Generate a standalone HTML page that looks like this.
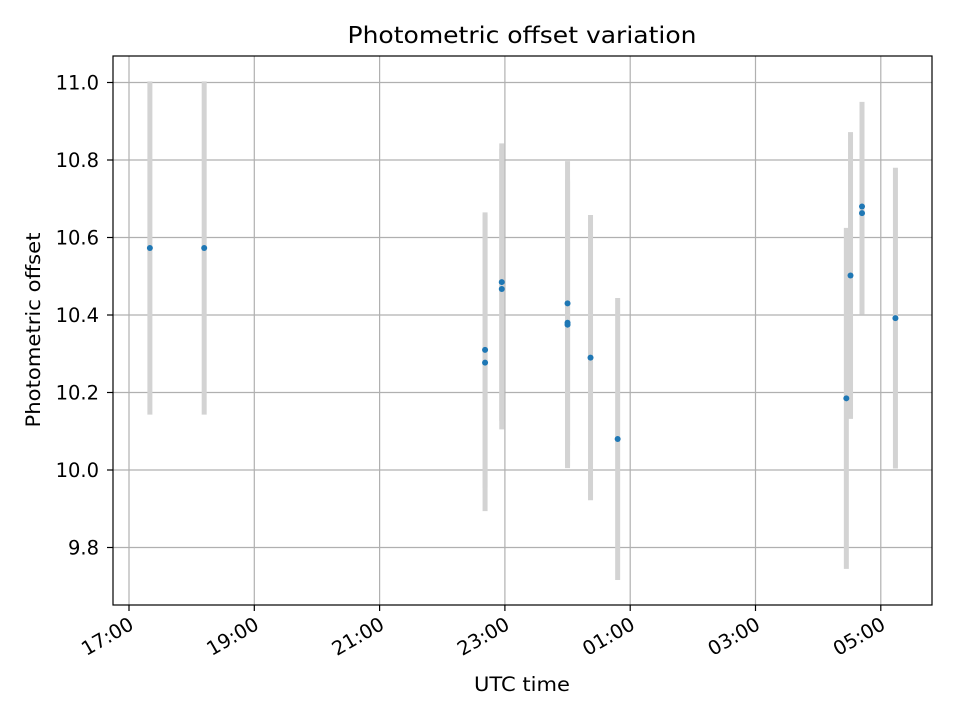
<!DOCTYPE html>
<html><head><meta charset="utf-8"><style>body{margin:0;background:#fff}svg{display:block;font-family:"DejaVu Sans","Liberation Sans",sans-serif}</style></head>
<body>
<svg id="chart" width="960" height="720"></svg>
<script>
// data (minutes after 17:00)
const times = [20, 72, 341, 341, 357, 357, 420, 420, 420, 442, 468, 687, 691, 702, 702, 734];
const values = [10.573, 10.573, 10.31, 10.277, 10.485, 10.467, 10.43, 10.38, 10.375, 10.29, 10.08, 10.185, 10.502, 10.68, 10.663, 10.392];
const errors = [0.43, 0.43, 0.355, 0.383, 0.358, 0.362, 0.367, 0.37, 0.37, 0.368, 0.364, 0.44, 0.37, 0.27, 0.262, 0.388];
const yTicks = [9.8, 10.0, 10.2, 10.4, 10.6, 10.8, 11.0];
const xTickLabels = ["17:00", "19:00", "21:00", "23:00", "01:00", "03:00", "05:00"];
const xTickMinutes = [0, 120, 240, 360, 480, 600, 720];

const NS = "http://www.w3.org/2000/svg";
const svg = document.getElementById("chart");
const L = 113, R = 932, T = 56, B = 605;
function xs(m) { return 129 + m * (125.3 / 120); }
function ys(v) { return 470 - (v - 10.0) * 387.5; }
function mk(tag, attrs, parent) {
  const e = document.createElementNS(NS, tag);
  for (const k in attrs) e.setAttribute(k, attrs[k]);
  (parent || svg).appendChild(e);
  return e;
}
const grid = mk("g", {});


xTickMinutes.forEach(m => mk("line", {x1: xs(m), x2: xs(m), y1: T, y2: B, stroke: "#b0b0b0", "stroke-width": 1.2}, grid));
yTicks.forEach(v => mk("line", {x1: L, x2: R, y1: ys(v), y2: ys(v), stroke: "#b0b0b0", "stroke-width": 1.2}, grid));
const eb = mk("g", {});


times.forEach((t, i) => {
  const l = mk("line", {x1: xs(t), x2: xs(t), y1: ys(values[i] + errors[i]), y2: ys(values[i] - errors[i]), stroke: "#d3d3d3", "stroke-width": 5}, eb);
  
  
});
const pts = mk("g", {});


times.forEach((t, i) => {
  const c = mk("circle", {cx: xs(t), cy: ys(values[i]), r: 3, fill: "#1f77b4"}, pts);
  
  
});
const fr = mk("rect", {x: L, y: T, width: R - L, height: B - T, fill: "none", stroke: "#000", "stroke-width": 1.2});


const ya = mk("g", {});


yTicks.forEach(v => {
  mk("line", {x1: L - 6, x2: L, y1: ys(v), y2: ys(v), stroke: "#000", "stroke-width": 1.2}, ya);
  const tx = mk("text", {x: L - 14, y: ys(v) + 7, "text-anchor": "end", "font-size": 19.5}, ya);
  tx.textContent = v.toFixed(1);
});
const xa = mk("g", {});


xTickMinutes.forEach((m, i) => {
  const x = xs(m);
  mk("line", {x1: x, x2: x, y1: B, y2: B + 6, stroke: "#000", "stroke-width": 1.2}, xa);
  const ax = x - 1, ay = B + 11;
  const tx = mk("text", {x: ax, y: ay + 14, "text-anchor": "end", "font-size": 19.5, transform: `rotate(-30 ${ax} ${ay})`}, xa);
  tx.textContent = xTickLabels[i];
});
const xt = mk("text", {x: 522, y: 691, "text-anchor": "middle", "font-size": 19.5, textLength: 96, lengthAdjust: "spacingAndGlyphs"});
xt.textContent = "UTC time";


const yt = mk("text", {x: 40, y: 330, "text-anchor": "middle", "font-size": 19.5, textLength: 195, lengthAdjust: "spacingAndGlyphs", transform: "rotate(-90 40 330)"});
yt.textContent = "Photometric offset";


const tt = mk("text", {x: 522, y: 43, "text-anchor": "middle", "font-size": 23, textLength: 349, lengthAdjust: "spacingAndGlyphs"});
tt.textContent = "Photometric offset variation";


</script>
</body></html>
